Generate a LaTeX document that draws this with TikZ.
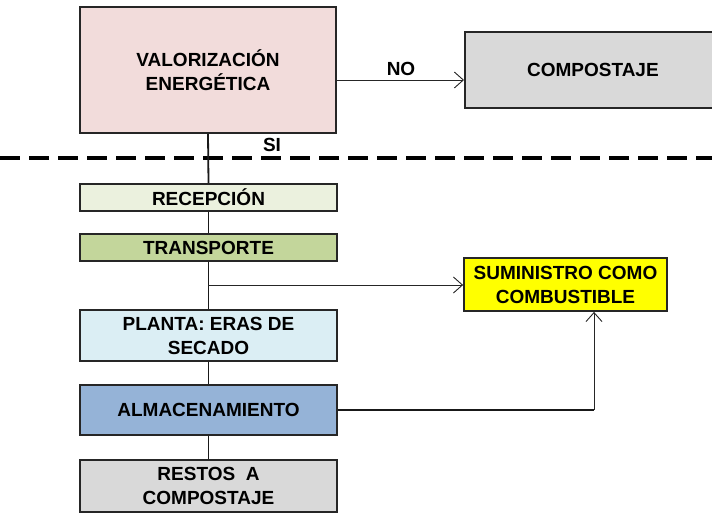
\documentclass[tikz,border=0pt]{standalone}
\usepackage{fontspec}
\setmainfont{Liberation Sans}
\usetikzlibrary{arrows.meta,calc}
\definecolor{cpink}{HTML}{F2DCDB}
\definecolor{cgray}{HTML}{D9D9D9}
\definecolor{clgreen}{HTML}{EBF1DE}
\definecolor{cgreen}{HTML}{C3D69B}
\definecolor{clblue}{HTML}{DBEEF4}
\definecolor{cblue}{HTML}{95B3D7}
\definecolor{cyellow}{HTML}{FFFF00}
\begin{document}
\begin{tikzpicture}[x=1pt,y=-1pt,
  box/.style={draw=black!85,line width=1.8pt,rectangle,inner sep=0pt,align=center,
    font=\fontsize{19}{24}\selectfont\bfseries},
  thick line/.style={line width=1.8pt,draw=black!90},
  thin line/.style={line width=0.9pt,draw=black!85},
  tip/.style={-{Straight Barb[length=9pt,width=16pt,line width=0.9pt]}},
  lbl/.style={font=\fontsize{19}{24}\selectfont\bfseries,inner sep=0pt}]
\useasboundingbox (0,0) rectangle (712,514);
\node[box,fill=cpink,minimum width=256pt,minimum height=126pt] (val) at (208,70) {VALORIZACIÓN\\ENERGÉTICA};
\node[box,fill=cgray,minimum width=256pt,minimum height=76pt,anchor=west] (comp) at (464,70) {\hspace*{0pt}COMPOSTAJE};
\node[box,fill=clgreen,minimum width=257pt,minimum height=27pt] (rec) at (208.5,197.5) {RECEPCIÓN};
\node[box,fill=cgreen,minimum width=257pt,minimum height=27pt] (tra) at (208.5,247.5) {TRANSPORTE};
\node[box,fill=clblue,minimum width=257pt,minimum height=51pt] (pla) at (208.5,335.5) {PLANTA: ERAS DE\\SECADO};
\node[box,fill=cblue,minimum width=257pt,minimum height=50pt] (alm) at (208.5,410) {ALMACENAMIENTO};
\node[box,fill=cgray,minimum width=257pt,minimum height=52pt] (res) at (208.5,486) {RESTOS\ \ A\\COMPOSTAJE};
\node[box,fill=cyellow,minimum width=203pt,minimum height=53pt] (sum) at (565.5,284.5) {SUMINISTRO COMO\\COMBUSTIBLE};
\node[lbl] (no) at (401,69) {NO};
\node[lbl] (si) at (272,145) {SI};
\draw[line width=3.5pt,dash pattern=on 20pt off 9pt] (0,158) -- (712,158);
\coordinate (nolevel) at (0,80);
\draw[thin line,tip] (val.east |- nolevel) -- (comp.west |- nolevel);
\draw[thick line] (val.south) -- (rec.north);
\draw[thick line] (rec.south) -- (tra.north);
\draw[thick line] (tra.south) -- (pla.north);
\draw[thick line] (pla.south) -- (alm.north);
\draw[thick line] (alm.south) -- (res.north);
\coordinate (br) at (208,285);
\draw[thin line,tip] (br) -- (br -| sum.west);
\coordinate (corner) at (594,410);
\draw[thick line] (alm.east) -- (corner);
\draw[thin line,tip] (corner) -- (corner |- sum.south);
\end{tikzpicture}
\end{document}
